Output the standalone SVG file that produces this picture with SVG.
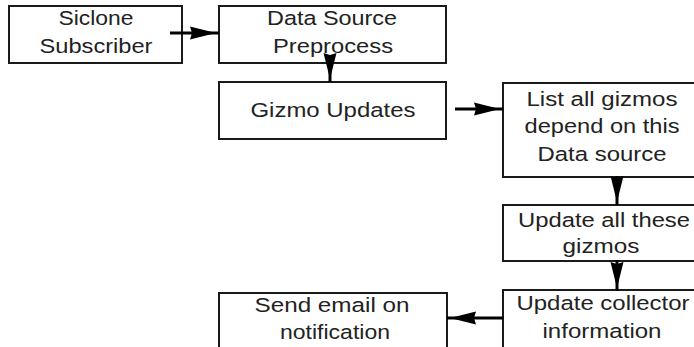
<svg xmlns="http://www.w3.org/2000/svg" width="694" height="347" viewBox="0 0 694 347">
<style>
.box{fill:#fff;stroke:#1a1a1a;stroke-width:2}
.t{font-family:"Liberation Sans",Arial,sans-serif;font-size:20.5px;fill:#222;text-anchor:middle}
.c{fill:none;stroke:#000;stroke-width:3}
</style>
<defs>
<marker id="ah" markerUnits="userSpaceOnUse" viewBox="0 0 30 14" markerWidth="30" markerHeight="14" refX="29" refY="7" orient="auto">
<path d="M0,0.5 L26,7 L0,13.5 L2,7 z" fill="#000"/>
</marker>
</defs>
<rect width="694" height="347" fill="#fff"/>
<g id="n1"><rect class="box" x="9" y="6" width="173" height="57"/>
<text class="t" x="96" y="25" textLength="75" lengthAdjust="spacingAndGlyphs">Siclone</text>
<text class="t" x="96" y="53" textLength="113" lengthAdjust="spacingAndGlyphs">Subscriber</text></g>
<g id="n2"><rect class="box" x="219" y="6" width="227" height="57"/>
<text class="t" x="332" y="25" textLength="130" lengthAdjust="spacingAndGlyphs">Data Source</text>
<text class="t" x="333" y="53" textLength="120" lengthAdjust="spacingAndGlyphs">Preprocess</text></g>
<g id="n3"><rect class="box" x="219" y="82" width="227" height="57"/>
<text class="t" x="333" y="117" textLength="165" lengthAdjust="spacingAndGlyphs">Gizmo Updates</text></g>
<g id="n4"><rect class="box" x="503" y="83" width="210" height="94"/>
<text class="t" x="602" y="106" textLength="151" lengthAdjust="spacingAndGlyphs">List all gizmos</text>
<text class="t" x="602" y="133" textLength="155" lengthAdjust="spacingAndGlyphs">depend on this</text>
<text class="t" x="602" y="161" textLength="129" lengthAdjust="spacingAndGlyphs">Data source</text></g>
<g id="n5"><rect class="box" x="503" y="205" width="210" height="56"/>
<text class="t" x="604" y="227" textLength="172" lengthAdjust="spacingAndGlyphs">Update all these</text>
<text class="t" x="601" y="253" textLength="77" lengthAdjust="spacingAndGlyphs">gizmos</text></g>
<g id="n6"><rect class="box" x="503" y="290" width="210" height="80"/>
<text class="t" x="603" y="310" textLength="173" lengthAdjust="spacingAndGlyphs">Update collector</text>
<text class="t" x="602" y="338" textLength="119" lengthAdjust="spacingAndGlyphs">information</text></g>
<g id="n7"><rect class="box" x="219" y="293" width="228" height="80"/>
<text class="t" x="332" y="312" textLength="155" lengthAdjust="spacingAndGlyphs">Send email on</text>
<text class="t" x="335" y="339" textLength="110" lengthAdjust="spacingAndGlyphs">notification</text></g>
<g id="connectors">
<path class="c" d="M170,33 H219" marker-end="url(#ah)"/>
<path class="c" d="M330,55 V82" marker-end="url(#ah)"/>
<path class="c" d="M455,109 H503" marker-end="url(#ah)"/>
<path class="c" d="M617,176 V205" marker-end="url(#ah)"/>
<path class="c" d="M617,260 V291" marker-end="url(#ah)"/>
<path class="c" d="M503,318 H447" marker-end="url(#ah)"/>
</g>
</svg>
